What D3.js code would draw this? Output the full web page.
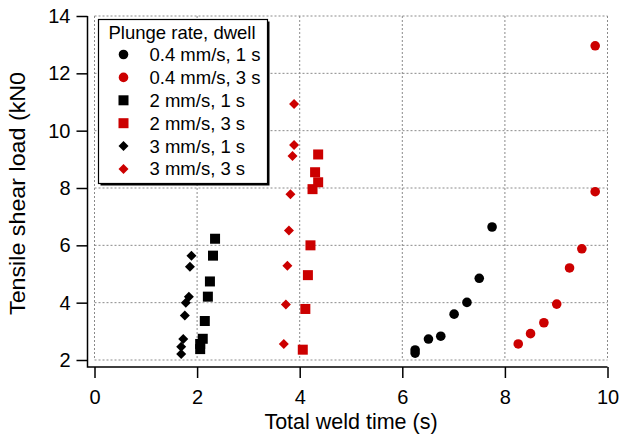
<!DOCTYPE html>
<html>
<head>
<meta charset="utf-8">
<script src="https://cdn.jsdelivr.net/npm/d3@7"></script>
<style>
  body { margin: 0; background: #fff; }
  svg { font-family: "Liberation Sans", Arial, Helvetica, sans-serif; }
</style>
</head>
<body>
<div id="chart"></div>
<script>
// series: total weld time (s) and tensile shear load (kN)
var circ04_1x = [6.25, 6.25, 6.51, 6.75, 7.01, 7.26, 7.50, 7.75];
var circ04_1y = [2.35, 2.24, 2.73, 2.83, 3.60, 4.01, 4.85, 6.64];
var circ04_3x = [8.26, 8.50, 8.76, 9.01, 9.26, 9.50, 9.76, 9.76];
var circ04_3y = [2.56, 2.92, 3.30, 3.95, 5.21, 5.88, 7.87, 12.96];
var sq2_1x = [2.35, 2.31, 2.25, 2.21, 2.15, 2.11, 2.06, 2.06];
var sq2_1y = [6.23, 5.64, 4.74, 4.21, 3.36, 2.74, 2.56, 2.38];
var sq2_3x = [4.36, 4.30, 4.36, 4.25, 4.21, 4.16, 4.11, 4.06];
var sq2_3y = [9.17, 8.55, 8.20, 7.96, 6.00, 4.96, 3.78, 2.36];
var dia3_1x = [1.89, 1.86, 1.84, 1.78, 1.76, 1.73, 1.69, 1.69];
var dia3_1y = [5.64, 5.25, 4.21, 4.00, 3.55, 2.73, 2.46, 2.21];
var dia3_3x = [3.89, 3.89, 3.86, 3.82, 3.79, 3.76, 3.73, 3.69];
var dia3_3y = [10.93, 9.50, 9.12, 7.78, 6.52, 5.29, 3.94, 2.56];

var seriesNames = ["0.4 mm/s, 1 s", "0.4 mm/s, 3 s", "2 mm/s, 1 s", "2 mm/s, 3 s", "3 mm/s, 1 s", "3 mm/s, 3 s"];
var seriesX = [circ04_1x, circ04_3x, sq2_1x, sq2_3x, dia3_1x, dia3_3x];
var seriesY = [circ04_1y, circ04_3y, sq2_1y, sq2_3y, dia3_1y, dia3_3y];
var seriesShape = ["circle", "circle", "square", "square", "diamond", "diamond"];
var seriesColor = ["#000000", "#cc0000", "#000000", "#cc0000", "#000000", "#cc0000"];

var xTicks = [0, 2, 4, 6, 8, 10];
var yTicks = [2, 4, 6, 8, 10, 12, 14];

var width = 624, height = 441;
var plotLeft = 94.5, plotRight = 607.5, plotTop = 16, plotBottom = 360;
var gap = 7; // axes are offset from the plot area

var svg = d3.select("#chart").append("svg")
    .attr("width", width)
    .attr("height", height);

var x = d3.scaleLinear().domain([0, 10]).range([plotLeft, plotRight]);
var y = d3.scaleLinear().domain([2, 14]).range([plotBottom, plotTop]);

// dotted grid (includes frame lines)
var grid = svg.append("g")
    .attr("stroke", "#8a8a8a")
    .attr("stroke-width", 1)
    .attr("stroke-dasharray", "2,2");
grid.selectAll(".gx").data(xTicks).enter().append("line")
    .attr("x1", function (d) { return x(d); })
    .attr("x2", function (d) { return x(d); })
    .attr("y1", y(14)).attr("y2", y(2));
grid.selectAll(".gy").data(yTicks).enter().append("line")
    .attr("y1", function (d) { return y(d); })
    .attr("y2", function (d) { return y(d); })
    .attr("x1", x(0)).attr("x2", x(10));

// axes
var axisX = plotLeft - gap;
var axisY = plotBottom + gap;

var gx = svg.append("g")
    .attr("transform", "translate(0," + axisY + ")")
    .call(d3.axisBottom(x).tickValues(xTicks).tickSize(11).tickPadding(12));
var gy = svg.append("g")
    .attr("transform", "translate(" + axisX + ",0)")
    .call(d3.axisLeft(y).tickValues(yTicks).tickSize(11).tickPadding(6));

[gx, gy].forEach(function (g) {
    g.select(".domain").remove();
    g.selectAll("line").attr("stroke", "#000").attr("stroke-width", 1.5);
    g.selectAll("text")
        .attr("fill", "#000")
        .style("font-size", "20px")
        .style("font-family", "'Liberation Sans', Arial, sans-serif");
});

svg.append("path")
    .attr("d", "M" + axisX + "," + y(14) + "V" + axisY + "H" + x(10))
    .attr("fill", "none")
    .attr("stroke", "#000")
    .attr("stroke-width", 1.5);

// axis titles
svg.append("text")
    .attr("x", (plotLeft + plotRight) / 2)
    .attr("y", 429)
    .attr("text-anchor", "middle")
    .style("font-size", "21.5px")
    .text("Total weld time (s)");

svg.append("text")
    .attr("transform", "translate(25,193.5) rotate(-90)")
    .attr("text-anchor", "middle")
    .attr("textLength", 243)
    .attr("lengthAdjust", "spacingAndGlyphs")
    .style("font-size", "21.5px")
    .text("Tensile shear load (kN0");

// marker drawing
function drawMarker(sel, shape, color) {
    if (shape === "circle") {
        sel.append("circle").attr("r", 4.8).attr("fill", color);
    } else if (shape === "square") {
        sel.append("rect").attr("x", -5).attr("y", -5)
            .attr("width", 10).attr("height", 10).attr("fill", color);
    } else {
        sel.append("path").attr("d", "M0,-5L5,0L0,5L-5,0Z").attr("fill", color);
    }
}

// points
seriesNames.forEach(function (name, i) {
    var pts = seriesX[i].map(function (v, j) {
        return { x: v, y: seriesY[i][j] };
    });
    var g = svg.append("g").attr("class", "series");
    g.selectAll("g").data(pts).enter().append("g")
        .attr("transform", function (d) {
            return "translate(" + x(d.x) + "," + y(d.y) + ")";
        })
        .each(function () {
            drawMarker(d3.select(this), seriesShape[i], seriesColor[i]);
        });
});

// legend
var lg = svg.append("g").attr("transform", "translate(98.5,19.5)");
var lw = 169, lh = 164;
lg.append("rect")
    .attr("x", 2).attr("y", 2)
    .attr("width", lw).attr("height", lh)
    .attr("fill", "#000");
lg.append("rect")
    .attr("width", lw).attr("height", lh)
    .attr("fill", "#fff")
    .attr("stroke", "#000")
    .attr("stroke-width", 1.2);
lg.append("text")
    .attr("x", 10).attr("y", 19.5)
    .style("font-size", "18.5px")
    .text("Plunge rate, dwell");

seriesNames.forEach(function (name, i) {
    var row = lg.append("g")
        .attr("transform", "translate(0," + (35 + i * 22.9) + ")");
    var m = row.append("g").attr("transform", "translate(25,0)");
    drawMarker(m, seriesShape[i], seriesColor[i]);
    row.append("text")
        .attr("x", 51)
        .attr("y", 0)
        .attr("dy", "0.35em")
        .style("font-size", "18.5px")
        .text(name);
});
</script>
</body>
</html>
